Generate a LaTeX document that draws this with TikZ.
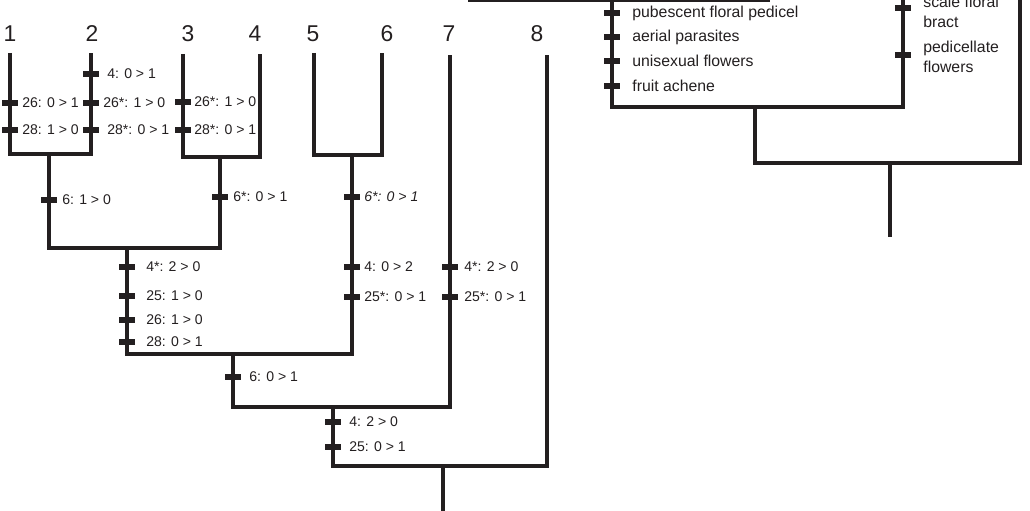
\documentclass[tikz,border=0pt]{standalone}
\usepackage{fontspec}
\setmainfont{Liberation Sans}
\usepackage{tikz}
\usetikzlibrary{positioning, calc}
\definecolor{cK}{RGB}{35,31,32}

\begin{document}
\begin{tikzpicture}[x=0.02cm, y=-0.02cm,
    branch/.style={draw=cK, line width=2.7pt},
    tick/.style={fill=cK, inner sep=0pt, minimum width=0.32cm, minimum height=0.11cm},
    chg/.style={anchor=west, inner sep=0pt, text=cK, font=\fontsize{8}{9.6}\selectfont},
    taxon/.style={inner sep=0pt, text=cK, font=\fontsize{13}{15}\selectfont},
    trait/.style={anchor=west, inner sep=0pt, align=left, text=cK, font=\fontsize{9}{11}\selectfont}]
    \useasboundingbox (0,0) rectangle (1030,510);
    \clip (0,0) rectangle (1030,510);

    % Tip Labels
    \node[taxon] (T1) at (10,34) {1};
    \node[taxon] (T2) at (92,34) {2};
    \node[taxon] (T3) at (188,34) {3};
    \node[taxon] (T4) at (255,34) {4};
    \node[taxon] (T5) at (313,34) {5};
    \node[taxon] (T6) at (387,34) {6};
    \node[taxon] (T7) at (449,34) {7};
    \node[taxon] (T8) at (537,34) {8};

    % Tip tops and branch points
    \coordinate (L1) at (10,53);
    \coordinate (L2) at (91,53);
    \coordinate (L3) at (183,54);
    \coordinate (L4) at (260,54);
    \coordinate (L5) at (314,53);
    \coordinate (L6) at (382,53);
    \coordinate (L7) at (450,55);
    \coordinate (L8) at (547,55);
    \coordinate (c12) at (49,154);
    \coordinate (c34) at (220,157);
    \coordinate (c56) at (352,155);
    \coordinate (c1234) at (127,248);
    \coordinate (c1to6) at (233,354);
    \coordinate (c1to7) at (333,407);
    \coordinate (croot) at (443,466);
    \coordinate (base) at (443,520);

    % Branches
    \draw[branch] (L1) |- (c12) -| (L2);
    \draw[branch] (L3) |- (c34) -| (L4);
    \draw[branch] (L5) |- (c56) -| (L6);
    \draw[branch] (c12) |- (c1234) -| (c34);
    \draw[branch] (c1234) |- (c1to6) -| (c56);
    \draw[branch] (c1to6) |- (c1to7) -| (L7);
    \draw[branch] (c1to7) |- (croot) -| (L8);
    \draw[branch] (croot) -- (base);

    % Changes on taxa 1 and 2
    \node[tick] (a1) at (10,103) {};
    \node[chg] at (22,103) {26: 0 > 1};
    \node[tick] (a2) at (10,130) {};
    \node[chg] at (22,130) {28: 1 > 0};
    \node[tick] (b1) at (91,74) {};
    \node[chg] at (107,74) {4: 0 > 1};
    \node[tick] (b2) at (91,103) {};
    \node[chg] at (103,103) {26*: 1 > 0};
    \node[tick] (b3) at (91,130) {};
    \node[chg] at (107,130) {28*: 0 > 1};

    % Changes on taxon 3
    \node[tick] (d1) at (183,102) {};
    \node[chg] at (194,102) {26*: 1 > 0};
    \node[tick] (d2) at (183,130) {};
    \node[chg] at (194,130) {28*: 0 > 1};

    % Changes below the pairs
    \node[tick] (e1) at (49,200) {};
    \node[chg] at (62,200) {6: 1 > 0};
    \node[tick] (f1) at (220,197) {};
    \node[chg] at (233,197) {6*: 0 > 1};
    \node[tick] (g1) at (352,197) {};
    \node[chg] at (364,197) {\itshape 6*: 0 > 1};

    % Stem of taxa 1 to 4
    \node[tick] (h1) at (127,267) {};
    \node[chg] at (146,267) {4*: 2 > 0};
    \node[tick] (h2) at (127,296) {};
    \node[chg] at (146,296) {25: 1 > 0};
    \node[tick] (h3) at (127,320) {};
    \node[chg] at (146,320) {26: 1 > 0};
    \node[tick] (h4) at (127,342) {};
    \node[chg] at (146,342) {28: 0 > 1};

    % Stem of taxa 5 and 6, and taxon 7
    \node[tick] (k1) at (352,267) {};
    \node[chg] at (364,267) {4: 0 > 2};
    \node[tick] (k2) at (352,297) {};
    \node[chg] at (364,297) {25*: 0 > 1};
    \node[tick] (m1) at (450,267) {};
    \node[chg] at (464,267) {4*: 2 > 0};
    \node[tick] (m2) at (450,297) {};
    \node[chg] at (464,297) {25*: 0 > 1};

    % Lower stems
    \node[tick] (n1) at (233,377) {};
    \node[chg] at (249,377) {6: 0 > 1};
    \node[tick] (p1) at (333,422) {};
    \node[chg] at (349,422) {4: 2 > 0};
    \node[tick] (p2) at (333,447) {};
    \node[chg] at (349,447) {25: 0 > 1};

    % Right tree
    \coordinate (Q1) at (470,-20);
    \coordinate (cQ) at (612,0);
    \coordinate (Q2) at (768,-20);
    \coordinate (R2) at (903,-20);
    \coordinate (R3) at (1020,-20);
    \coordinate (cR) at (755,107);
    \coordinate (cS) at (890,163);
    \coordinate (Sbase) at (890,237);
    \draw[branch] (Q1) |- (cQ) -| (Q2);
    \draw[branch] (cQ) |- (cR) -| (R2);
    \draw[branch] (cR) |- (cS) -| (R3);
    \draw[branch] (cS) -- (Sbase);

    % Traits
    \node[tick] (r1) at (612,13) {};
    \node[trait] at (632,13) {pubescent floral pedicel};
    \node[tick] (r2) at (612,37) {};
    \node[trait] at (632,37) {aerial parasites};
    \node[tick] (r3) at (612,61) {};
    \node[trait] at (632,61) {unisexual flowers};
    \node[tick] (r4) at (612,86) {};
    \node[trait] at (632,86) {fruit achene};
    \node[tick] (s1) at (903,8) {};
    \node[trait] at (923,12) {scale floral\\bract};
    \node[tick] (s2) at (903,55) {};
    \node[trait] at (923,57) {pedicellate\\flowers};

\end{tikzpicture}
\end{document}
